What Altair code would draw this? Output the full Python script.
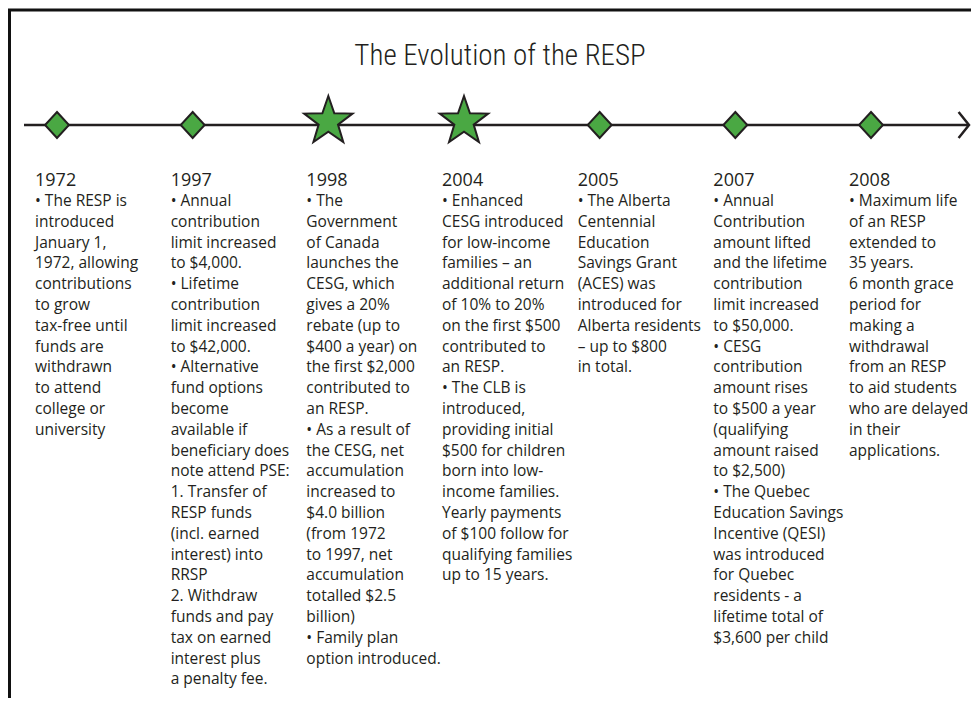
import altair as alt
import pandas as pd

title_text = "The Evolution of the RESP"

years = ["1972", "1997", "1998", "2004", "2005", "2007", "2008"]
marker_kind = ["diamond", "diamond", "star", "star", "diamond", "diamond", "diamond"]

desc_1972 = ["• The RESP is", "introduced", "January 1,", "1972, allowing", "contributions",
             "to grow", "tax-free until", "funds are", "withdrawn", "to attend",
             "college or", "university"]
desc_1997 = ["• Annual", "contribution", "limit increased", "to $4,000.", "• Lifetime",
             "contribution", "limit increased", "to $42,000.", "• Alternative",
             "fund options", "become", "available if", "beneficiary does",
             "note attend PSE:", "1. Transfer of", "RESP funds", "(incl. earned",
             "interest) into", "RRSP", "2. Withdraw", "funds and pay", "tax on earned",
             "interest plus", "a penalty fee."]
desc_1998 = ["• The", "Government", "of Canada", "launches the", "CESG, which",
             "gives a 20%", "rebate (up to", "$400 a year) on", "the first $2,000",
             "contributed to", "an RESP.", "• As a result of", "the CESG, net",
             "accumulation", "increased to", "$4.0 billion", "(from 1972",
             "to 1997, net", "accumulation", "totalled $2.5", "billion)",
             "• Family plan", "option introduced."]
desc_2004 = ["• Enhanced", "CESG introduced", "for low-income", "families – an",
             "additional return", "of 10% to 20%", "on the first $500", "contributed to",
             "an RESP.", "• The CLB is", "introduced,", "providing initial",
             "$500 for children", "born into low-", "income families.",
             "Yearly payments", "of $100 follow for", "qualifying families",
             "up to 15 years."]
desc_2005 = ["• The Alberta", "Centennial", "Education", "Savings Grant",
             "(ACES) was", "introduced for", "Alberta residents", "– up to $800",
             "in total."]
desc_2007 = ["• Annual", "Contribution", "amount lifted", "and the lifetime",
             "contribution", "limit increased", "to $50,000.", "• CESG",
             "contribution", "amount rises", "to $500 a year", "(qualifying",
             "amount raised", "to $2,500)", "• The Quebec", "Education Savings",
             "Incentive (QESI)", "was introduced", "for Quebec", "residents - a",
             "lifetime total of", "$3,600 per child"]
desc_2008 = ["• Maximum life", "of an RESP", "extended to", "35 years.",
             "6 month grace", "period for", "making a", "withdrawal",
             "from an RESP", "to aid students", "who are delayed", "in their",
             "applications."]

descriptions = [desc_1972, desc_1997, desc_1998, desc_2004, desc_2005, desc_2007, desc_2008]

df = pd.DataFrame({
    "year": years,
    "kind": marker_kind,
    "desc": ["\n".join(d) for d in descriptions],
})

INK = "#231f20"
GREEN = "#4aa843"
FONT = "Open Sans"

diamond_path = "M0,-1 L0.92,0 L0,1 L-0.92,0 Z"
star_path = ("M0,-1.14 L0.2351,-0.4636 L0.9511,-0.449 L0.3804,-0.0164 L0.5878,0.669 "
             "L0,0.26 L-0.5878,0.669 L-0.3804,-0.0164 L-0.9511,-0.449 L-0.2351,-0.4636 Z")
chevron_path = "M-0.8,-1 L0,0 L-0.8,1"

xenc = alt.X("year:O", sort=years, axis=None,
             scale=alt.Scale(type="point", domain=years, range=[49, 863], padding=0))

base = alt.Chart(df)
one = alt.Data(values=[{"k": 1}])

frame = alt.Chart(one).mark_rect(
    fillOpacity=0, stroke="#111111", strokeWidth=3
).encode(x=alt.value(1.5), x2=alt.value(1200), y=alt.value(2), y2=alt.value(1200))

timeline = alt.Chart(one).mark_rule(
    stroke=INK, strokeWidth=2.5
).encode(x=alt.value(16), x2=alt.value(960), y=alt.value(117))

arrow = alt.Chart(one).mark_point(
    shape=chevron_path, size=676, filled=False, stroke=INK, strokeWidth=2.5,
    opacity=1
).encode(x=alt.value(961), y=alt.value(117))

diamonds = base.transform_filter(alt.datum.kind == "diamond").mark_point(
    shape=diamond_path, size=676, filled=True, fill=GREEN, fillOpacity=1,
    stroke=INK, strokeWidth=2, strokeOpacity=1
).encode(x=xenc, y=alt.value(117))

stars = base.transform_filter(alt.datum.kind == "star").mark_point(
    shape=star_path, size=2581, filled=True, fill=GREEN, fillOpacity=1,
    stroke=INK, strokeWidth=2, strokeOpacity=1
).encode(x=xenc, y=alt.value(117))

year_labels = base.mark_text(
    align="left", baseline="alphabetic", dx=-22, fontSize=18, font=FONT, color=INK
).encode(x=xenc, y=alt.value(178), text="year:N")

body = base.mark_text(
    align="left", baseline="alphabetic", dx=-22, fontSize=15.5, font=FONT,
    color=INK, lineBreak="\n", lineHeight=20.8
).encode(x=xenc, y=alt.value(198), text="desc:N")

title = alt.Chart(one).mark_text(
    align="center", baseline="alphabetic", fontSize=29,
    font="Roboto Condensed, Liberation Sans Narrow, Roboto", fontWeight=300, color=INK
).encode(x=alt.value(492), y=alt.value(57), text=alt.value(title_text))

chart = alt.layer(frame, timeline, arrow, diamonds, stars, year_labels, body, title).properties(
    width=963, height=690,
    autosize=alt.AutoSizeParams(type="none"),
    padding=0,
).configure_view(stroke=None)

chart.save("out.html", embed_options={"renderer": "svg", "actions": False})
